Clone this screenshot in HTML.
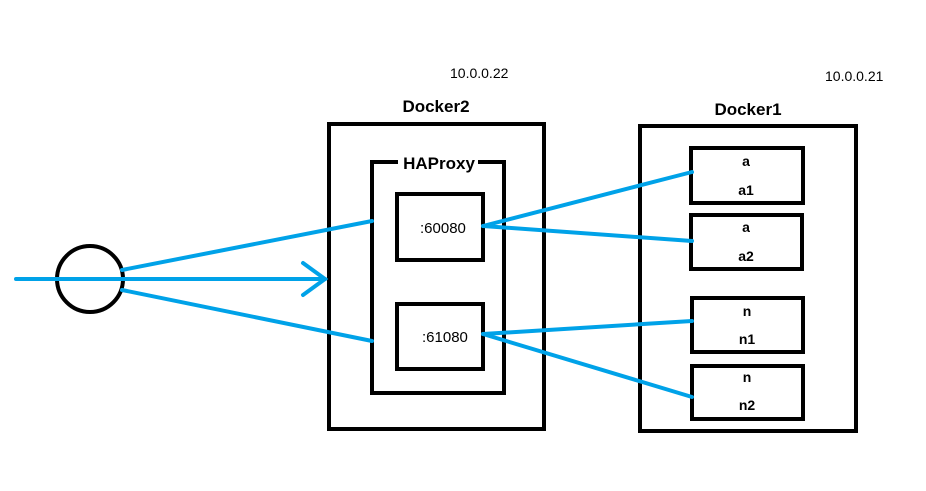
<!DOCTYPE html>
<html><head><style>body{margin:0;background:#fff}svg{display:block}</style></head><body>
<svg width="926" height="491" viewBox="0 0 926 491" xmlns="http://www.w3.org/2000/svg" font-family="Liberation Sans, sans-serif">
<g fill="none" stroke="#000" stroke-width="4">
<rect x="329" y="124" width="215" height="305"/>
<rect x="372" y="162" width="132" height="231"/>
<rect x="397" y="194" width="86" height="66"/>
<rect x="397" y="304" width="86" height="65"/>
<rect x="640" y="126" width="216" height="305"/>
<rect x="691" y="148" width="112" height="55"/>
<rect x="691" y="215" width="111" height="54"/>
<rect x="692" y="298" width="111" height="54"/>
<rect x="692" y="366" width="111" height="53"/>
<circle cx="90" cy="279" r="33"/>
</g>
<rect x="398" y="150" width="80" height="20" fill="#fff"/>
<g stroke="#00a2e8" stroke-width="4" fill="none" stroke-linecap="round">
<line x1="16" y1="279" x2="325" y2="279"/>
<polyline points="303,263 325,279 303,295"/>
<line x1="122" y1="270" x2="372" y2="221"/>
<line x1="122" y1="290" x2="372" y2="341"/>
<line x1="483" y1="226" x2="692" y2="172"/>
<line x1="483" y1="226" x2="692" y2="241"/>
<line x1="483" y1="334" x2="692" y2="321"/>
<line x1="483" y1="334" x2="692" y2="397"/>
</g>
<g font-size="14" fill="#000">
<text x="450" y="78">10.0.0.22</text>
<text x="825" y="81">10.0.0.21</text>
<text x="420" y="233" font-size="15">:60080</text>
<text x="422" y="342" font-size="15">:61080</text>
</g>
<g font-weight="bold" font-size="17" fill="#000" text-anchor="middle">
<text x="436" y="112">Docker2</text>
<text x="439" y="169">HAProxy</text>
<text x="748" y="115">Docker1</text>
<g font-size="14">
<text x="746" y="166">a</text><text x="746" y="195">a1</text>
<text x="746" y="232">a</text><text x="746" y="261">a2</text>
<text x="747" y="316">n</text><text x="747" y="344">n1</text>
<text x="747" y="382">n</text><text x="747" y="410">n2</text>
</g></g>
</svg>
</body></html>
